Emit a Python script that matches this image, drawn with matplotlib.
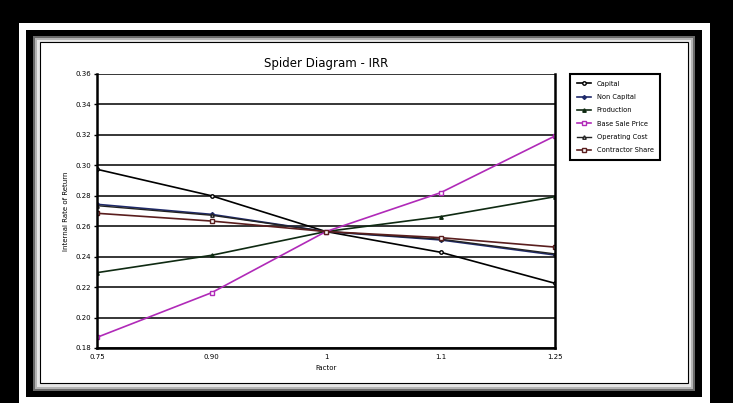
import matplotlib.pyplot as plt
from matplotlib.patches import Rectangle

# spider diagram data
factors = ["0.75", "0.90", "1", "1.1", "1.25"]
capital = [0.2974, 0.2800, 0.2565, 0.2429, 0.2225]
non_capital = [0.2744, 0.2678, 0.2565, 0.2510, 0.2411]
production = [0.2295, 0.2409, 0.2565, 0.2663, 0.2794]
base_sale_price = [0.1870, 0.2163, 0.2565, 0.2820, 0.3193]
operating_cost = [0.2735, 0.2672, 0.2565, 0.2515, 0.2418]
contractor_share = [0.2685, 0.2634, 0.2565, 0.2525, 0.2463]

yticks = [0.18, 0.2, 0.22, 0.24, 0.26, 0.28, 0.3, 0.32, 0.34, 0.36]

W, H = 733, 403
fig = plt.figure(figsize=(W / 100, H / 100), dpi=100)
fig.patch.set_facecolor("black")


def box(x0, y0, x1, y1, **kw):
    # pixel coords, origin top-left
    fig.patches.append(Rectangle((x0 / W, 1 - y1 / H), (x1 - x0) / W, (y1 - y0) / H,
                                 transform=fig.transFigure, zorder=-10, **kw))


# picture frame
box(19, 23, 710, 420, facecolor="white", edgecolor="none")
box(26, 30, 702, 397, facecolor="black", edgecolor="none")
box(33, 36, 695, 391, facecolor="#6a6a6a", edgecolor="none")
box(35, 38, 693, 389, facecolor="#b5b5b5", edgecolor="none")
box(37, 40, 691, 387, facecolor="#e6e6e6", edgecolor="none")
box(40, 42, 688, 383, facecolor="white", edgecolor="black", linewidth=0.8)

ax = fig.add_axes([97 / W, 1 - 348 / H, (555 - 97) / W, (348 - 74) / H])
ax.set_facecolor("white")

x = list(range(len(factors)))
ax.plot(x, capital, color="black", lw=1.2, marker="o", ms=2.5, mfc="white", label="Capital")
ax.plot(x, non_capital, color="#1f2a6b", lw=1.2, marker="D", ms=2, label="Non Capital")
ax.plot(x, production, color="#0f2a12", lw=1.2, marker="^", ms=2.5, label="Production")
ax.plot(x, base_sale_price, color="#b02ab8", lw=1.2, marker="s", ms=2.5, mfc="white", label="Base Sale Price")
ax.plot(x, operating_cost, color="#222222", lw=1.0, marker="^", ms=2.5, mfc="white", label="Operating Cost")
ax.plot(x, contractor_share, color="#5a1e1e", lw=1.2, marker="s", ms=2.5, mfc="white", label="Contractor Share")

ax.set_xlim(0, 4)
ax.set_ylim(0.18, 0.36)
ax.set_xticks(x)
ax.set_xticklabels(factors)
ax.set_yticks(yticks)
ax.set_yticklabels([f"{v:.2f}" for v in yticks])
ax.yaxis.grid(True, color="black", lw=1.1)
ax.set_axisbelow(True)
ax.tick_params(labelsize=5, length=2.5, width=1, pad=2)
ax.tick_params(axis="x", length=0, pad=4)
for s in ["left", "bottom", "right"]:
    ax.spines[s].set_linewidth(1.8)
ax.spines["top"].set_visible(False)

ax.set_title("Spider Diagram - IRR", fontsize=8.5, pad=5)
ax.set_xlabel("Factor", fontsize=5, labelpad=4)
ax.set_ylabel("Internal Rate of Return", fontsize=5, labelpad=4)

leg = ax.legend(loc="upper left", bbox_to_anchor=(570 / W, 1 - 74 / H),
                bbox_transform=fig.transFigure, fontsize=4.8, fancybox=False,
                framealpha=1, edgecolor="black", handlelength=2.2,
                labelspacing=1.1, borderpad=1.0, borderaxespad=0)
leg.get_frame().set_linewidth(1.5)

plt.savefig("out.png", dpi=100, facecolor=fig.get_facecolor())
